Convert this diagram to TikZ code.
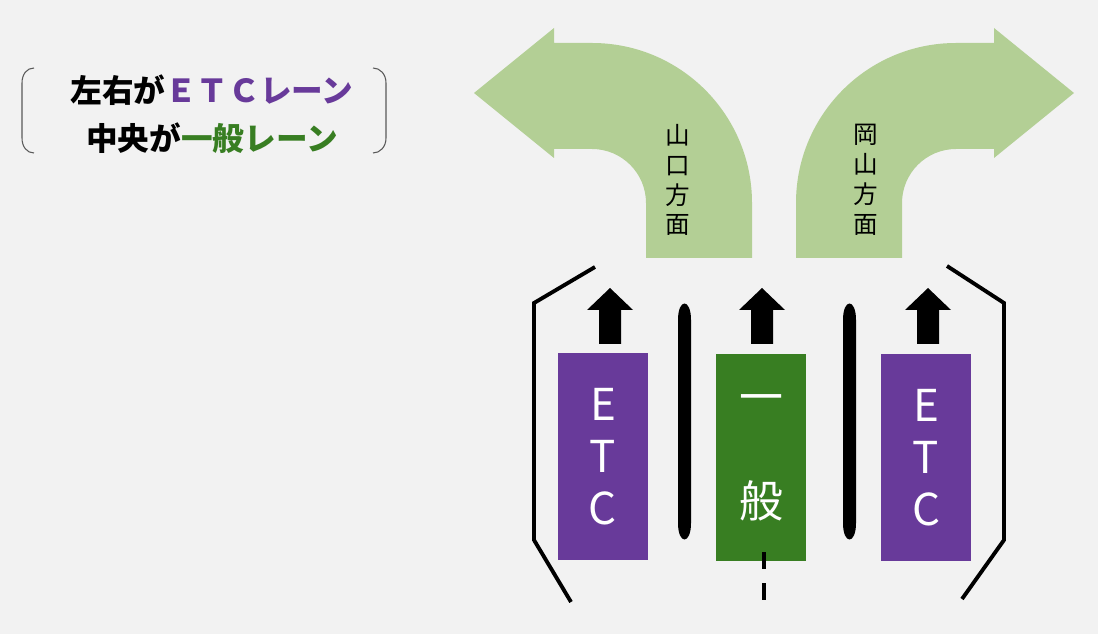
\documentclass[tikz,border=0pt]{standalone}
\usepackage{fontspec}
\setmainfont{Noto Sans CJK JP}
\usetikzlibrary{arrows.meta}
\definecolor{etcpurple}{RGB}{104,58,154}
\definecolor{lanegreen}{RGB}{56,126,34}
\definecolor{routegreen}{RGB}{179,207,149}
\definecolor{bggray}{RGB}{242,242,242}

\tikzset{
    booth/.style={
        rectangle,
        inner sep=0pt,
        minimum width=1.8cm,
        minimum height=4.14cm,
        text=white,
        align=center,
        font=\fontsize{25}{29.6}\selectfont
    },
    wall/.style={
        line width=2.2pt,
        black
    },
    routelabel/.style={
        inner sep=0pt,
        align=center,
        font=\fontsize{14}{17}\selectfont
    },
    legend/.style={
        inner sep=0pt,
        font=\bfseries\fontsize{18}{20}\selectfont
    },
    uparrow/.pic={
        \fill[black] (-11,56) -- (-11,22) -- (-23,22) -- (0,0)
            -- (23,22) -- (11,22) -- (11,56) -- cycle;
    }
}

\begin{document}
\begin{tikzpicture}[>=Stealth, x=0.02cm, y=-0.02cm]

% Fons
\fill[bggray] (0,0) rectangle (1098,634);
\useasboundingbox (0,0) rectangle (1098,634);

% Llegenda
\draw[
    line width=0.6pt,
    black!65
] (34,68) .. controls (27,68) and (22,74) .. (22,83)
  -- (22,138) .. controls (22,147) and (27,153) .. (34,153);
\draw[
    line width=0.6pt,
    black!65
] (373,68) .. controls (380,68) and (386,74) .. (386,83)
  -- (386,138) .. controls (386,147) and (380,153) .. (373,153);
\node[legend] (legendtop) at (212,90)
    {左右が\textcolor{etcpurple}{ＥＴＣレーン}};
\node[legend] (legendbottom) at (212,138)
    {中央が\textcolor{lanegreen}{一般レーン}};

% Fletxa cap a l'esquerra
\fill[routegreen] (646,258) -- (646,203)
  .. controls (646,173.2) and (621.8,149) .. (592,149)
  -- (554,149) -- (554,158) -- (474,93) -- (554,28) -- (554,43) -- (592,43)
  .. controls (680.4,43) and (752,114.6) .. (752,203)
  -- (752,258) -- cycle;
\node[routelabel] (yamaguchi) at (678,180) {山\\口\\方\\面};

% Fletxa cap a la dreta
\fill[routegreen] (902,258) -- (902,203)
  .. controls (902,173.2) and (926.2,149) .. (956,149)
  -- (994,149) -- (994,158) -- (1074,93) -- (994,28) -- (994,43) -- (956,43)
  .. controls (867.6,43) and (796,114.6) .. (796,203)
  -- (796,258) -- cycle;
\node[routelabel] (okayama) at (866,180) {岡\\山\\方\\面};

% Parets
\draw[wall] (595,267) -- (534,303) -- (534,540) -- (571,602);
\draw[wall] (947,266) -- (1004,303) -- (1004,540) -- (962,599);

% Separadors
\foreach \dx in {684.5,849.5} {
    \fill[black] (\dx-6.5,320) .. controls (\dx-6.5,298) and (\dx+6.5,298) .. (\dx+6.5,320)
      -- (\dx+6.5,523) .. controls (\dx+6.5,545) and (\dx-6.5,545) .. (\dx-6.5,523) -- cycle;
}

% Cabines
\node[booth, fill=etcpurple] (etcleft) at (603,456.5) {E\\T\\C};
\node[booth, fill=lanegreen] (general) at (761,457.5) {一\\ \\般};
\node[booth, fill=etcpurple] (etcright) at (926,457.5) {E\\T\\C};

% Línia discontínua
\draw[
    line width=2.3pt,
    dash pattern=on 9.7pt off 8pt
] (764,552) -- (764,601);

% Fletxes negres
\pic at (610,288) {uparrow};
\pic at (762,288) {uparrow};
\pic at (928,288) {uparrow};

\end{tikzpicture}
\end{document}
